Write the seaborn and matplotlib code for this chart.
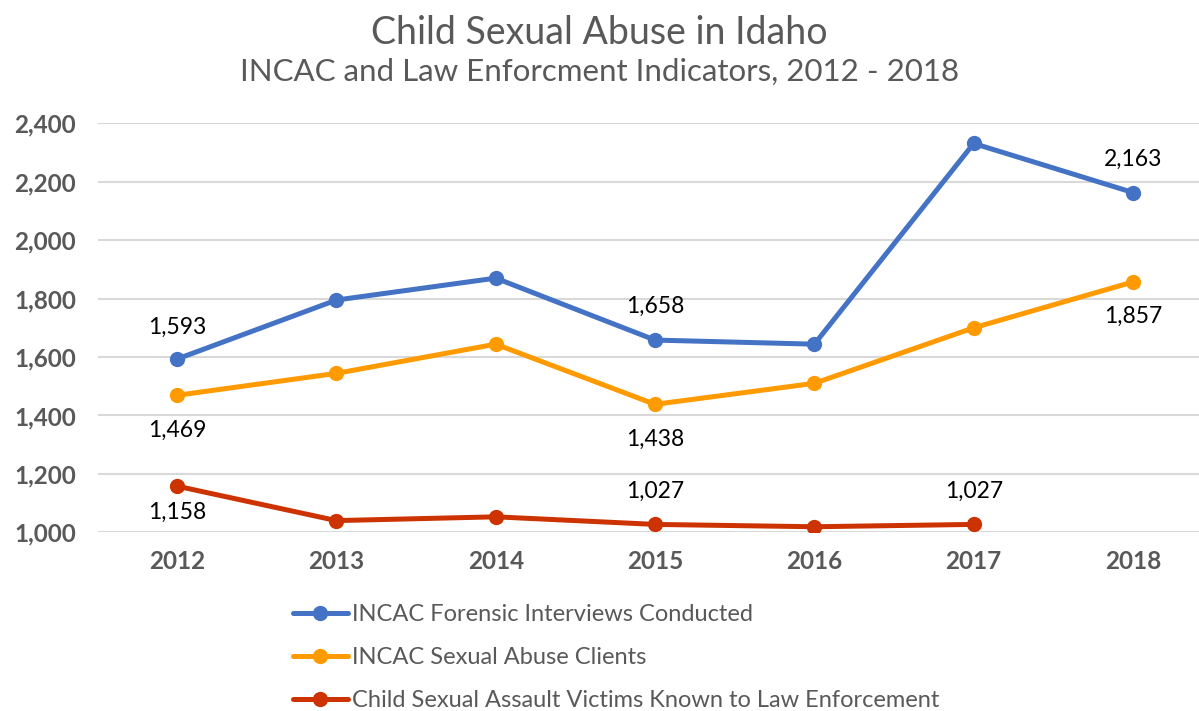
import matplotlib
matplotlib.use("Agg")
import matplotlib.pyplot as plt
import seaborn as sns
import numpy as np
import pandas as pd

years = [2012, 2013, 2014, 2015, 2016, 2017, 2018]
forensic = [1593, 1795, 1870, 1658, 1644, 2331, 2163]
clients = [1469, 1544, 1644, 1438, 1510, 1700, 1857]
victims = [1158, 1040, 1053, 1027, 1019, 1027, np.nan]
series_names = ["INCAC Forensic Interviews Conducted",
                "INCAC Sexual Abuse Clients",
                "Child Sexual Assault Victims Known to Law Enforcement"]
colors = ["#4472C4", "#FF9A00", "#CC3300"]
yticks = [1000, 1200, 1400, 1600, 1800, 2000, 2200, 2400]

sns.set_theme(style="white")
plt.rcParams['font.family'] = ['Lato', 'DejaVu Sans']

frames = []
for name, vals in zip(series_names, [forensic, clients, victims]):
    frames.append(pd.DataFrame({"Year": years, "Value": vals, "Series": name}))
df = pd.concat(frames, ignore_index=True)

fig = plt.figure(figsize=(11.99, 7.11), dpi=100)
ax = fig.add_axes([98/1199, (711-532.3)/711, 1 - 98/1199, (532.3-123.3)/711])

sns.lineplot(data=df, x="Year", y="Value", hue="Series", hue_order=series_names,
             palette=colors, marker="o", markersize=11, markeredgewidth=0,
             linewidth=3.6, ax=ax, legend=True)

ax.set_ylim(1000, 2400)
ax.set_xlim(2011.504, 2018.414)
ax.set_yticks(yticks)
ax.set_yticklabels([f"{v:,}" for v in yticks])
ax.set_xticks(years)
ax.set_xticklabels([str(y) for y in years])
ax.yaxis.grid(True, color="#D9D9D9", linewidth=1.5)
ax.set_axisbelow(True)
for s in ax.spines.values():
    s.set_visible(False)
ax.set_xlabel("")
ax.set_ylabel("")
ax.tick_params(axis="both", length=0, labelsize=17.5, labelcolor="#595959")
ax.tick_params(axis="y", pad=16)
ax.tick_params(axis="x", pad=13)
for lbl in ax.get_xticklabels() + ax.get_yticklabels():
    lbl.set_fontweight("bold")

# data labels
labels = [
    (0, 0, 23), (0, 3, 24), (0, 6, 24),
    (1, 0, -25), (1, 3, -25), (1, 6, -25),
    (2, 0, -19), (2, 3, 24), (2, 5, 24),
]
allvals = [forensic, clients, victims]
for si, xi, off in labels:
    v = allvals[si][xi]
    ax.annotate(f"{int(v):,}", (years[xi], v), xytext=(0, off), textcoords="offset points",
                ha="center", va="center", fontsize=16.5, color="black", clip_on=False)

leg = ax.get_legend()
handles = leg.legend_handles
leg.remove()
fig.legend(handles, series_names, loc="upper left", bbox_to_anchor=(272/1199, 1 - 583/711),
           frameon=False, fontsize=17, labelcolor="#595959", handlelength=2.3,
           handletextpad=0.2, labelspacing=0.93)

fig.text(0.5, 1 - 33/711, "Child Sexual Abuse in Idaho", ha="center", va="center",
         fontsize=27, color="#595959")
fig.text(0.5, 1 - 72/711, "INCAC and Law Enforcment Indicators, 2012 - 2018", ha="center",
         va="center", fontsize=22.5, color="#595959")

fig.savefig("out.png", dpi=100)
